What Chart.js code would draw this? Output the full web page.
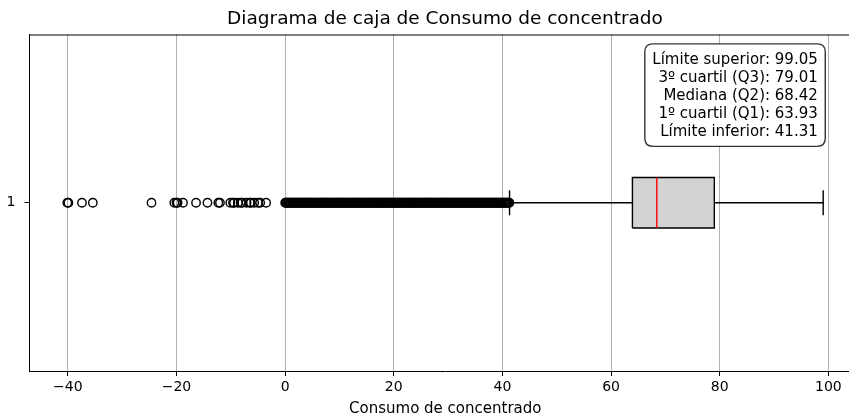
<!DOCTYPE html>
<html lang="es">
<head>
<meta charset="utf-8">
<title>Diagrama de caja de Consumo de concentrado</title>
<script src="https://cdn.jsdelivr.net/npm/chart.js@4/dist/chart.umd.min.js"></script>
<style>
  html, body { margin: 0; padding: 0; background: #fff; overflow: hidden; }
  #wrap { width: 849px; height: 420px; overflow: hidden; }
  canvas { display: block; }
</style>
</head>
<body>
<div id="wrap"><canvas id="chart" width="890" height="420"></canvas></div>
<script>
// Resumen de la distribución
const limiteInferior = 41.31;
const q1 = 63.93;
const mediana = 68.42;
const q3 = 79.01;
const limiteSuperior = 99.05;

// Valores atípicos (por debajo del límite inferior)
const atipicosNegativos = [
  -40.1, -39.9, -37.4, -35.4, -24.6, -20.4, -20.0, -19.8, -18.8, -16.4,
  -14.3, -12.3, -12.0, -10.1, -9.6, -9.4, -8.7, -8.2, -7.9, -7.1,
  -6.5, -6.3, -5.7, -5.0, -4.6, -3.5
];
const atipicosPositivos = [
  0.00, 0.13, 0.31, 0.46, 0.64, 0.79, 0.98, 1.12, 1.30, 1.47, 1.66, 1.81, 2.00, 2.15, 2.34, 2.50, 2.67, 2.84, 3.02, 3.18, 3.37, 3.52, 3.70, 3.88, 4.05,
  4.21, 4.40, 4.56, 4.73, 4.91, 5.08, 5.25, 5.43, 5.59, 5.78, 5.94, 6.12, 6.29, 6.47, 6.63, 6.81, 6.98, 7.16, 7.32, 7.50, 7.67, 7.85, 8.01, 8.19, 8.36,
  8.54, 8.70, 8.88, 9.05, 9.22, 9.40, 9.57, 9.75, 9.91, 10.09, 10.26, 10.44, 10.60, 10.78, 10.95, 11.13, 11.29, 11.47, 11.64, 11.82, 11.98, 12.16, 12.33, 12.51, 12.67,
  12.85, 13.02, 13.20, 13.36, 13.54, 13.71, 13.89, 14.05, 14.23, 14.40, 14.58, 14.74, 14.92, 15.09, 15.27, 15.43, 15.61, 15.78, 15.96, 16.12, 16.30, 16.47, 16.65, 16.81, 16.99,
  17.16, 17.34, 17.50, 17.68, 17.85, 18.03, 18.19, 18.37, 18.54, 18.72, 18.88, 19.06, 19.23, 19.41, 19.57, 19.75, 19.92, 20.10, 20.26, 20.44, 20.61, 20.79, 20.95, 21.13, 21.30,
  21.48, 21.64, 21.82, 21.99, 22.17, 22.33, 22.51, 22.68, 22.86, 23.02, 23.20, 23.37, 23.55, 23.71, 23.89, 24.06, 24.24, 24.40, 24.58, 24.75, 24.93, 25.09, 25.27, 25.44, 25.62,
  25.78, 25.96, 26.13, 26.31, 26.47, 26.65, 26.82, 27.00, 27.16, 27.34, 27.51, 27.69, 27.85, 28.03, 28.20, 28.38, 28.54, 28.72, 28.89, 29.07, 29.23, 29.41, 29.58, 29.76, 29.92,
  30.10, 30.27, 30.45, 30.61, 30.79, 30.96, 31.14, 31.30, 31.48, 31.65, 31.83, 31.99, 32.17, 32.34, 32.52, 32.68, 32.86, 33.03, 33.21, 33.37, 33.55, 33.72, 33.90, 34.06, 34.24,
  34.41, 34.59, 34.75, 34.93, 35.10, 35.28, 35.44, 35.62, 35.79, 35.97, 36.13, 36.31, 36.48, 36.66, 36.82, 37.00, 37.17, 37.35, 37.51, 37.69, 37.86, 38.04, 38.20, 38.38, 38.55,
  38.73, 38.89, 39.07, 39.24, 39.42, 39.58, 39.76, 39.93, 40.11, 40.27, 40.45, 40.62, 40.80, 40.96, 41.14, 41.29
];

// Ejes
const posicionCaja = 1;
const ticksX = [-40, -20, 0, 20, 40, 60, 80, 100];
const ticksY = [1];

// Geometría y estilo de la caja
const anchoCaja = 0.15;
const FONT = "'DejaVu Sans', sans-serif";

const hw = anchoCaja / 2;
const cw = anchoCaja / 4;
const y0 = posicionCaja;

const atipicos = atipicosNegativos.concat(atipicosPositivos).map(v => ({ x: v, y: y0 }));

const lineaBase = {
  showLine: true, pointRadius: 0, pointHoverRadius: 0,
  borderColor: '#000', borderWidth: 1.4, fill: false, tension: 0
};

// Marco superior y derecho del área de trazado
const marco = {
  id: 'marco',
  afterDatasetsDraw(chart) {
    const { ctx, chartArea: a } = chart;
    ctx.save();
    ctx.strokeStyle = '#000';
    ctx.lineWidth = 1;
    ctx.beginPath();
    ctx.moveTo(a.left, a.top + 0.5);
    ctx.lineTo(a.right, a.top + 0.5);
    ctx.moveTo(a.right - 0.5, a.top);
    ctx.lineTo(a.right - 0.5, a.bottom);
    ctx.stroke();
    ctx.restore();
  }
};

// Recuadro con el resumen de la caja
const resumen = {
  id: 'resumen',
  afterDraw(chart) {
    const { ctx, chartArea: a } = chart;
    const lineas = [
      'Límite superior: ' + limiteSuperior.toFixed(2),
      '3º cuartil (Q3): ' + q3.toFixed(2),
      'Mediana (Q2): ' + mediana.toFixed(2),
      '1º cuartil (Q1): ' + q1.toFixed(2),
      'Límite inferior: ' + limiteInferior.toFixed(2)
    ];
    ctx.save();
    ctx.font = '15px ' + FONT;
    const anchoMax = Math.max(...lineas.map(t => ctx.measureText(t).width));
    const xDer = a.left + 0.948 * (a.right - a.left);
    const paso = 17.9;
    const yTop = a.top + 0.05 * (a.bottom - a.top);
    const pad = 7.5;
    const bx = xDer - anchoMax - pad, by = yTop - pad;
    const bw = anchoMax + 2 * pad, bh = paso * lineas.length - 2 + 2 * pad;
    const r = 8;
    ctx.beginPath();
    ctx.moveTo(bx + r, by);
    ctx.lineTo(bx + bw - r, by);
    ctx.quadraticCurveTo(bx + bw, by, bx + bw, by + r);
    ctx.lineTo(bx + bw, by + bh - r);
    ctx.quadraticCurveTo(bx + bw, by + bh, bx + bw - r, by + bh);
    ctx.lineTo(bx + r, by + bh);
    ctx.quadraticCurveTo(bx, by + bh, bx, by + bh - r);
    ctx.lineTo(bx, by + r);
    ctx.quadraticCurveTo(bx, by, bx + r, by);
    ctx.closePath();
    ctx.fillStyle = '#fff';
    ctx.fill();
    ctx.strokeStyle = 'rgba(0,0,0,0.8)';
    ctx.lineWidth = 1.4;
    ctx.stroke();
    ctx.fillStyle = '#000';
    ctx.textAlign = 'right';
    ctx.textBaseline = 'middle';
    lineas.forEach((t, i) => ctx.fillText(t, xDer, yTop + paso * (i + 0.5)));
    ctx.restore();
  }
};

const fmt = v => (v < 0 ? '\u2212' + Math.abs(v) : String(v));

new Chart(document.getElementById('chart'), {
  type: 'scatter',
  data: {
    datasets: [
      { ...lineaBase, data: [{ x: limiteInferior, y: y0 - cw }, { x: limiteInferior, y: y0 + cw }] },
      { ...lineaBase, data: [{ x: limiteSuperior, y: y0 - cw }, { x: limiteSuperior, y: y0 + cw }] },
      { ...lineaBase, borderColor: '#ff0000', data: [{ x: mediana, y: y0 - hw }, { x: mediana, y: y0 + hw }] },
      {
        ...lineaBase, fill: 'shape', backgroundColor: '#d3d3d3',
        data: [
          { x: q1, y: y0 - hw }, { x: q1, y: y0 + hw }, { x: q3, y: y0 + hw },
          { x: q3, y: y0 - hw }, { x: q1, y: y0 - hw }
        ]
      },
      { ...lineaBase, data: [{ x: limiteInferior, y: y0 }, { x: q1, y: y0 }] },
      { ...lineaBase, data: [{ x: q3, y: y0 }, { x: limiteSuperior, y: y0 }] },
      {
        data: atipicos, showLine: false, pointStyle: 'circle',
        pointRadius: 4.2, pointHoverRadius: 4.2, pointBorderWidth: 1.4,
        pointBackgroundColor: 'rgba(0,0,0,0)', pointBorderColor: '#000'
      }
    ]
  },
  options: {
    responsive: false,
    animation: false,
    events: [],
    layout: { padding: { left: 0, right: 0, top: 0, bottom: 0 } },
    plugins: {
      legend: { display: false },
      tooltip: { enabled: false },
      title: {
        display: true,
        text: 'Diagrama de caja de Consumo de concentrado',
        color: '#000',
        font: { family: FONT, size: 18.5, weight: 'normal' },
        padding: { top: 8.5, bottom: 3.8 }
      }
    },
    scales: {
      x: {
        type: 'linear',
        min: -47.06,
        max: 106.01,
        afterBuildTicks: s => { s.ticks = ticksX.map(v => ({ value: v })); },
        afterFit: s => { s.height = 49; },
        ticks: {
          color: '#000', padding: 3,
          font: { family: FONT, size: 14 },
          callback: v => fmt(v)
        },
        grid: { color: '#b0b0b0', lineWidth: 1, tickColor: '#000', tickLength: 5 },
        border: { color: '#000', width: 1 },
        title: {
          display: true, text: 'Consumo de concentrado', color: '#000',
          font: { family: FONT, size: 15 }, padding: { top: 0, bottom: 1.5 }
        }
      },
      y: {
        type: 'linear',
        min: 0.5,
        max: 1.5,
        afterBuildTicks: s => { s.ticks = ticksY.map(v => ({ value: v })); },
        afterFit: s => { s.width = 29.5; },
        ticks: {
          color: '#000', padding: 9,
          font: { family: FONT, size: 14 },
          callback: v => String(v)
        },
        grid: { drawOnChartArea: false, tickColor: '#000', tickLength: 5 },
        border: { color: '#000', width: 1 }
      },
      // Margen derecho simétrico (sin marcas), para centrar los títulos sobre el área de trazado
      yDerecha: {
        type: 'linear',
        position: 'right',
        min: 0.5,
        max: 1.5,
        afterFit: s => { s.width = 29; },
        ticks: { display: false },
        grid: { display: false, drawOnChartArea: false, drawTicks: false },
        border: { display: false }
      }
    }
  },
  plugins: [marco, resumen]
});
</script>
</body>
</html>
